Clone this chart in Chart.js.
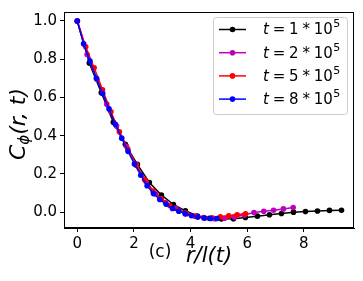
<!DOCTYPE html>
<html>
<head>
<meta charset="utf-8">
<script src="https://cdn.jsdelivr.net/npm/chart.js@4"></script>
<style>
  html, body { margin: 0; padding: 0; background: #fff; }
  #wrap { width: 363px; height: 281px; position: relative; }
</style>
</head>
<body>
<div id="wrap"><canvas id="chart"></canvas></div>
<script>
// series data
const seriesNames = ['1', '2', '5', '8'];
const seriesColors = ['#000000', '#bf00bf', '#ff0000', '#0000ff'];

const xT1 = [0, 0.424, 0.848, 1.272, 1.696, 2.12, 2.544, 2.968, 3.392, 3.816, 4.24, 4.664, 5.088, 5.512, 5.936, 6.36, 6.784, 7.208, 7.632, 8.056, 8.48, 8.904, 9.328];
const yT1 = [1.0, 0.78, 0.625, 0.47, 0.355, 0.25, 0.155, 0.09, 0.04, 0.007, -0.02, -0.032, -0.036, -0.034, -0.028, -0.021, -0.014, -0.007, 0.0, 0.003, 0.006, 0.009, 0.01];

const xT2 = [0, 0.347, 0.693, 1.04, 1.386, 1.733, 2.079, 2.426, 2.772, 3.119, 3.465, 3.812, 4.158, 4.505, 4.851, 5.198, 5.544, 5.891, 6.237, 6.584, 6.93, 7.277, 7.623];
const yT2 = [1.0, 0.825, 0.695, 0.565, 0.45, 0.345, 0.25, 0.16, 0.095, 0.05, 0.02, -0.005, -0.022, -0.031, -0.034, -0.032, -0.025, -0.015, -0.002, 0.005, 0.01, 0.017, 0.024];

const xT5 = [0, 0.297, 0.594, 0.891, 1.188, 1.485, 1.782, 2.079, 2.376, 2.673, 2.97, 3.267, 3.564, 3.861, 4.158, 4.455, 4.752, 5.049, 5.346, 5.643, 5.94];
const yT5 = [1.0, 0.865, 0.755, 0.64, 0.525, 0.42, 0.33, 0.245, 0.17, 0.11, 0.07, 0.035, 0.01, -0.008, -0.02, -0.028, -0.03, -0.024, -0.019, -0.014, -0.009];

const xT8 = [0, 0.224, 0.448, 0.672, 0.896, 1.12, 1.344, 1.568, 1.792, 2.016, 2.24, 2.464, 2.688, 2.912, 3.136, 3.36, 3.584, 3.808, 4.032, 4.256, 4.48, 4.704, 4.928];
const yT8 = [1.0, 0.88, 0.79, 0.70, 0.62, 0.54, 0.46, 0.387, 0.318, 0.252, 0.193, 0.138, 0.097, 0.066, 0.041, 0.019, 0.005, -0.009, -0.019, -0.026, -0.031, -0.033, -0.033];

const xTicks = [0, 2, 4, 6, 8];
const yTicks = [0.0, 0.2, 0.4, 0.6, 0.8, 1.0];

const xs = [xT1, xT2, xT5, xT8];
const ys = [yT1, yT2, yT5, yT8];

const datasets = seriesNames.map((n, i) => ({
    label: 't = ' + n + ' * 10^5',
    data: xs[i].map((x, j) => ({ x: x, y: ys[i][j] })),
    borderColor: seriesColors[i],
    backgroundColor: seriesColors[i],
    borderWidth: 1.5,
    pointRadius: 2.8,
    pointBorderWidth: 0,
    pointHoverRadius: 2.8,
    order: 4 - i   // blue drawn on top
}));

// frame, axis titles and the in-plot legend
const decor = {
    id: 'decor',
    afterDraw(chart) {
        const ctx = chart.ctx;
        const a = chart.chartArea;
        ctx.save();
        ctx.strokeStyle = '#000';
        ctx.lineWidth = 1;
        ctx.strokeRect(a.left + 0.5, a.top + 0.5, a.right - a.left - 1, a.bottom - a.top - 1);

        // legend box
        const lx = 213, ly = 17, lw = 134, lh = 97;
        ctx.fillStyle = 'rgba(255,255,255,0.8)';
        ctx.strokeStyle = '#cccccc';
        ctx.beginPath();
        ctx.roundRect(lx + 0.5, ly + 0.5, lw, lh, 3);
        ctx.fill();
        ctx.stroke();
        seriesNames.forEach((n, i) => {
            const ry = 29.5 + i * 23.2;
            ctx.strokeStyle = seriesColors[i];
            ctx.lineWidth = 1.5;
            ctx.beginPath();
            ctx.moveTo(219, ry);
            ctx.lineTo(246, ry);
            ctx.stroke();
            ctx.fillStyle = seriesColors[i];
            ctx.beginPath();
            ctx.arc(232.5, ry, 2.8, 0, Math.PI * 2);
            ctx.fill();
            ctx.fillStyle = '#000';
            ctx.textBaseline = 'middle';
            ctx.textAlign = 'left';
            const gap = 3.8;
            let x = 263;
            ctx.font = 'italic 15px "DejaVu Sans"';
            ctx.fillText('t', x, ry + 1);
            x += ctx.measureText('t').width + gap;
            ctx.font = '15px "DejaVu Sans"';
            ['=', n, '*', '10'].forEach((part, k) => {
                ctx.fillText(part, x, ry + 1);
                x += ctx.measureText(part).width + (k < 3 ? gap : 0.5);
            });
            ctx.font = '11px "DejaVu Sans"';
            ctx.fillText('5', x, ry - 5);
        });

        // x title and panel tag
        ctx.fillStyle = '#000';
        ctx.textAlign = 'center';
        ctx.textBaseline = 'middle';
        ctx.font = 'italic 21px "DejaVu Sans"';
        ctx.fillText('r/l(t)', 209, 257);
        ctx.font = '17px "DejaVu Sans"';
        ctx.fillText('(c)', 160, 253);

        // y title
        ctx.translate(19, 124);
        ctx.rotate(-Math.PI / 2);
        ctx.textAlign = 'left';
        ctx.font = 'italic 22px "DejaVu Sans"';
        const w1 = ctx.measureText('C').width;
        ctx.font = 'italic 15px "DejaVu Sans"';
        const w2 = ctx.measureText('\u03d5').width;
        ctx.font = 'italic 22px "DejaVu Sans"';
        const rest = '(r, t)';
        const w3 = ctx.measureText(rest).width;
        let sx = -(w1 + w2 + w3) / 2;
        ctx.fillText('C', sx, 0);
        sx += w1;
        ctx.font = 'italic 15px "DejaVu Sans"';
        ctx.fillText('\u03d5', sx, 6);
        sx += w2;
        ctx.font = 'italic 22px "DejaVu Sans"';
        ctx.fillText(rest, sx, 0);
        ctx.restore();
    }
};

new Chart(document.getElementById('chart'), {
    type: 'line',
    data: { datasets: datasets },
    options: {
        responsive: true,
        maintainAspectRatio: false,
        animation: false,
        layout: { padding: { top: 10, right: 9, left: 0, bottom: 0 } },
        plugins: {
            legend: { display: false },
            tooltip: { enabled: false }
        },
        scales: {
            x: {
                type: 'linear',
                min: -0.47,
                max: 9.77,
                afterBuildTicks: s => { s.ticks = xTicks.map(v => ({ value: v })); },
                afterFit: s => { s.height = 53; },
                grid: { drawOnChartArea: false, drawTicks: true, tickLength: 4, color: '#000' },
                border: { display: true, color: '#000' },
                ticks: {
                    color: '#000',
                    padding: 3,
                    font: { family: 'DejaVu Sans', size: 15 },
                    callback: v => String(v)
                }
            },
            y: {
                type: 'linear',
                min: -0.083,
                max: 1.047,
                afterBuildTicks: s => { s.ticks = yTicks.map(v => ({ value: v })); },
                afterFit: s => { s.width = 64; },
                grid: { drawOnChartArea: false, drawTicks: true, tickLength: 4, color: '#000' },
                border: { display: true, color: '#000' },
                ticks: {
                    color: '#000',
                    padding: 3,
                    font: { family: 'DejaVu Sans', size: 15 },
                    callback: v => v.toFixed(1)
                }
            }
        }
    },
    plugins: [decor]
});
</script>
</body>
</html>
